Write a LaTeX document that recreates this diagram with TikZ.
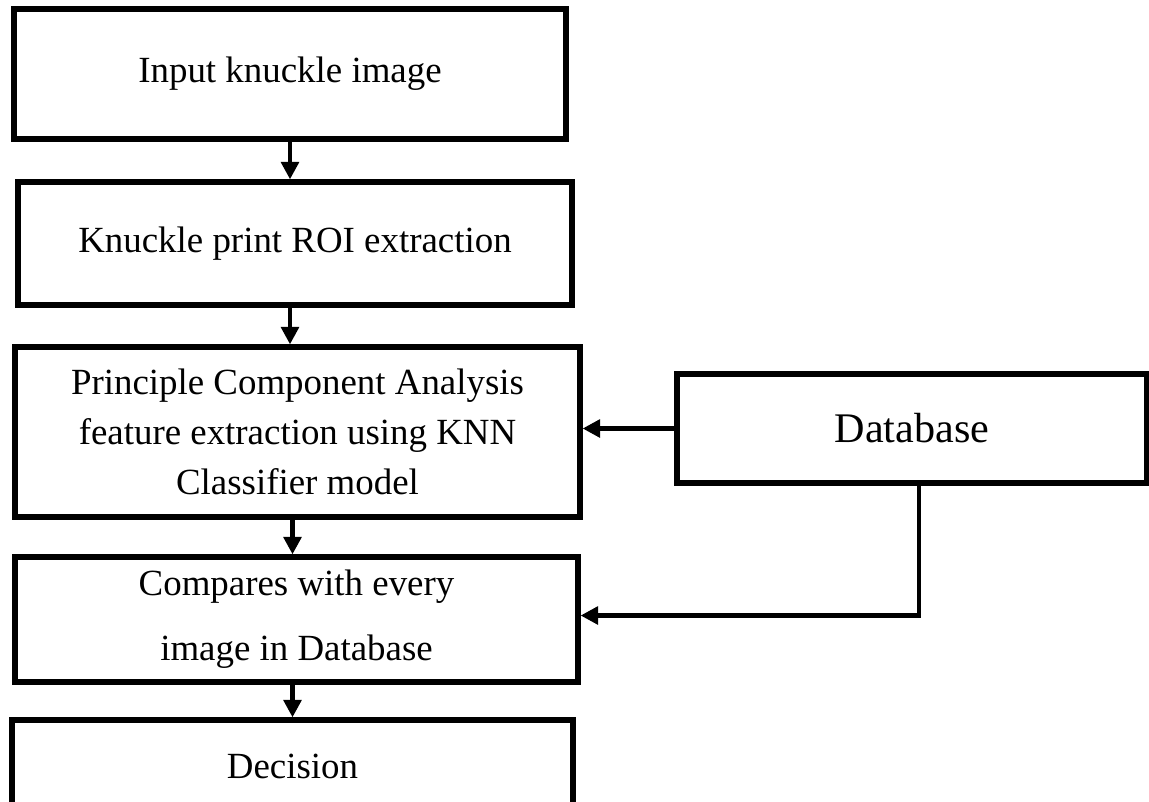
\documentclass[tikz,border=0pt]{standalone}
\usepackage{fontspec}
\setmainfont{Liberation Serif}
\usetikzlibrary{arrows.meta}

\begin{document}
\begin{tikzpicture}[x=0.02cm, y=-0.02cm,
stepbox/.style={draw=black, line width=3pt, align=center, inner sep=0pt, font=\fontsize{21}{28.5}\selectfont},
flow/.style={line width=2.6pt, -{Triangle[length=10pt,width=10pt]}}
]
    \useasboundingbox (0,0) rectangle (1149,801);
    \clip (0,0) rectangle (1149,801);

    \node [stepbox, minimum width=11.04cm, minimum height=2.6cm]  (input) at (290,74) {Input knuckle image};
    \node [stepbox, minimum width=11.08cm, minimum height=2.46cm] (roi) at (295,243.5) {Knuckle print ROI extraction};
    \node [stepbox, minimum width=11.3cm, minimum height=3.4cm]   (pca) at (297.5,432)
        {Principle Component Analysis\\feature extraction using KNN\\Classifier model};
    \node [stepbox, minimum width=11.26cm, minimum height=2.5cm, font=\fontsize{21}{37}\selectfont] (compare) at (296.5,619.5)
        {Compares with every\\image in Database};
    % bottom edge runs off the page
    \node [stepbox, minimum width=11.22cm, minimum height=1.84cm] (decision) at (292.5,766) {Decision};

    \node [stepbox, minimum width=9.4cm, minimum height=2.18cm, font=\fontsize{24}{30}\selectfont] (db) at (912,428.5) {Database};

    \draw [flow] (input.south) -- (input.south |- roi.north);
    \draw [flow] (input.south |- roi.south) -- (input.south |- pca.north);
    \draw [flow] (pca.south -| decision.north) -- (decision.north |- compare.north);
    \draw [flow] (compare.south -| decision.north) -- (decision.north);

    \draw [flow] (db.west) -- (db.west -| pca.east);
    \draw [flow] ([xshift=0.14cm]db.south) |- ([yshift=0.08cm]compare.east);
\end{tikzpicture}
\end{document}
